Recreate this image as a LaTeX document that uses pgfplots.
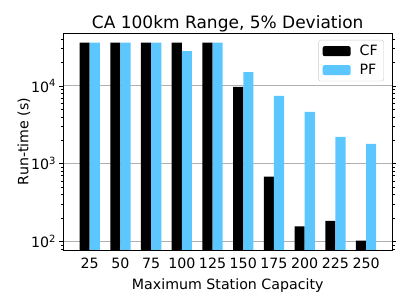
\documentclass[border=0pt]{standalone}
\usepackage{fontspec}
\setmainfont{DejaVu Sans}
\usepackage{pgfplots}
\pgfplotsset{compat=1.18}
\definecolor{pfblue}{RGB}{92,198,255}
\definecolor{gridgray}{RGB}{176,176,176}
\definecolor{leggray}{RGB}{204,204,204}
\begin{document}
\begin{tikzpicture}
\begin{axis}[
  name=ax, at={(0,0)}, anchor=south west,
  scale only axis, width=329.5pt, height=217pt,
  ymode=log, log basis y=10,
  ymin=77.4, ymax=47900,
  xmin=-0.87, xmax=9.86,
  xtick={0,...,9},
  xticklabels={25,50,75,100,125,150,175,200,225,250},
  major x tick style={draw=none},
  yticklabel={10\textsuperscript{\pgfmathprintnumber[fixed,precision=0]{\tick}}},
  /pgf/number format/assume math mode=true,
  tick align=outside,
  major tick length=3.5pt, minor tick length=2pt,
  tick style={black, line width=0.6pt},
  ymajorgrids, major grid style={gridgray, line width=0.8pt},
  axis line style={line width=0.8pt},
  ticklabel style={font=\fontsize{14.2}{17}\selectfont},
  xticklabel style={yshift=-1pt},
  label style={font=\fontsize{14.2}{17}\selectfont},
  xlabel={Maximum Station Capacity},
  ylabel={Run-time (s)},
  xlabel style={yshift=-3pt},
  ylabel style={yshift=-6pt},
  title={CA 100km Range, 5\% Deviation},
  title style={font=\fontsize{17}{20}\selectfont, yshift=-9pt},
  legend style={at={(0.974,0.968)}, anchor=north east,
    draw=leggray, rounded corners=2pt, fill=white,
    font=\fontsize{14.2}{17}\selectfont, inner xsep=4pt, inner ysep=3pt, row sep=3pt,
    /tikz/every odd column/.append style={column sep=7pt}},
  legend cell align=left,
  legend image code/.code={\fill[#1] (0pt,-5pt) rectangle (28pt,5pt);},
]
\addplot[ybar, bar width=0.33, bar shift=-0.165, fill=black, draw=none] coordinates {
(0,36000) (1,36000) (2,36000) (3,36000) (4,36000) (5,9700) (6,680) (7,156) (8,184) (9,102)};
\addlegendentry{CF}
\addplot[ybar, bar width=0.33, bar shift=0.165, fill=pfblue, draw=none] coordinates {
(0,36000) (1,36000) (2,36000) (3,28100) (4,36000) (5,15000) (6,7450) (7,4640) (8,2200) (9,1790)};
\addlegendentry{PF}
\end{axis}
\pgfresetboundingbox
\path ([xshift=-63pt,yshift=-55pt]ax.south west) rectangle ([xshift=14.5pt,yshift=33pt]ax.north east);
\end{tikzpicture}
\end{document}
